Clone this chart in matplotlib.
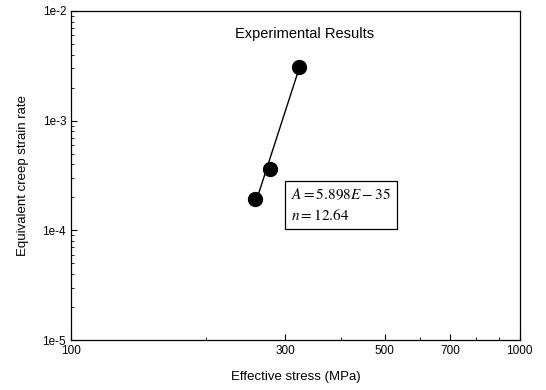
import matplotlib
matplotlib.use('Agg')
import matplotlib.pyplot as plt
import numpy as np
from matplotlib.ticker import FixedLocator, FixedFormatter, NullFormatter, LogLocator

stress = [257, 277, 322]            # MPa
strain_rate = [1.95e-4, 3.66e-4, 3.08e-3]

# Power-law fit parameters shown in the box
A = 5.898e-35
n = 12.64

x_ticks = [100, 300, 500, 700, 1000]
x_ticklabels = ['100', '300', '500', '700', '1000']
y_ticks = [1e-5, 1e-4, 1e-3, 1e-2]
y_ticklabels = ['1e-5', '1e-4', '1e-3', '1e-2']

plt.rcParams['font.family'] = ['Liberation Sans', 'DejaVu Sans']
plt.rcParams['mathtext.fontset'] = 'stix'

fig = plt.figure(figsize=(5.46, 3.9), dpi=100)
ax = fig.add_axes([0.130, 0.128, 0.822, 0.844])

# fit line over the data range
s_fit = np.linspace(min(stress), max(stress), 50)
ax.plot(s_fit, A * s_fit ** n, color='black', linewidth=1)
ax.plot(stress, strain_rate, 'o', color='black', markersize=10)

ax.set_xscale('log')
ax.set_yscale('log')
ax.set_xlim(100, 1000)
ax.set_ylim(1e-5, 1e-2)

ax.xaxis.set_major_locator(FixedLocator(x_ticks))
ax.xaxis.set_major_formatter(FixedFormatter(x_ticklabels))
ax.xaxis.set_minor_locator(LogLocator(base=10, subs=np.arange(2, 10)))
ax.xaxis.set_minor_formatter(NullFormatter())
ax.yaxis.set_major_locator(FixedLocator(y_ticks))
ax.yaxis.set_major_formatter(FixedFormatter(y_ticklabels))
ax.yaxis.set_minor_locator(LogLocator(base=10, subs=np.arange(2, 10)))
ax.yaxis.set_minor_formatter(NullFormatter())

ax.tick_params(which='both', direction='in', top=False, right=False)
ax.tick_params(which='major', length=4, width=0.8, labelsize=8.5)
ax.tick_params(which='minor', length=2.5, width=0.6)
for s in ax.spines.values():
    s.set_linewidth(0.9)

ax.set_xlabel('Effective stress (MPa)', fontsize=9.5, labelpad=10)
ax.set_ylabel('Equivalent creep strain rate', fontsize=9.5, labelpad=10)

ax.text(0.52, 0.93, 'Experimental Results', transform=ax.transAxes,
        ha='center', va='center', fontsize=10.5)

ax.text(0.49, 0.465, '$A = 5.898E - 35$\n$n = 12.64$', transform=ax.transAxes,
        ha='left', va='top', fontsize=11, linespacing=1.45,
        bbox=dict(boxstyle='square,pad=0.4', facecolor='white',
                  edgecolor='black', linewidth=0.9))

fig.savefig('out.png', dpi=100)
